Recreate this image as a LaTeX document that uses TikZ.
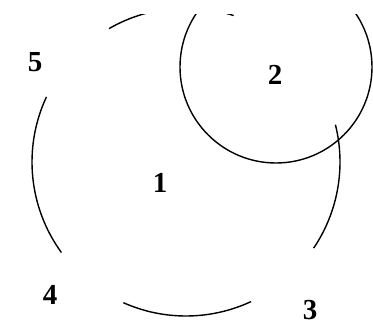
\documentclass[tikz,border=0pt]{standalone}
\usepackage{fontspec}
\setmainfont{Liberation Serif}
\tikzset{lbl/.style={inner sep=0pt,font=\bfseries\fontsize{29}{31}\selectfont}}

\begin{document}
\begin{tikzpicture}[x=1pt,y=1pt]
\path[use as bounding box] (0,0) rectangle (373,325);
\begin{scope}
\clip (0,0) rectangle (373,311);
\draw[line width=1.4pt] (186,163)+(72:154) arc[start angle=72,end angle=120,radius=154];
\draw[line width=1.4pt] (186,163)+(155:154) arc[start angle=155,end angle=216,radius=154];
\draw[line width=1.4pt] (186,163)+(246:154) arc[start angle=246,end angle=295,radius=154];
\draw[line width=1.4pt] (186,163)+(-34:154) arc[start angle=-34,end angle=14,radius=154];
\draw[line width=1.4pt] (276,258) circle[radius=96];
\end{scope}
\node[lbl] (one) at (160,142) {1};
\node[lbl] (two) at (275,250) {2};
\node[lbl] (three) at (310,15) {3};
\node[lbl] (four) at (50,30) {4};
\node[lbl] (five) at (35,263) {5};
\end{tikzpicture}
\end{document}
